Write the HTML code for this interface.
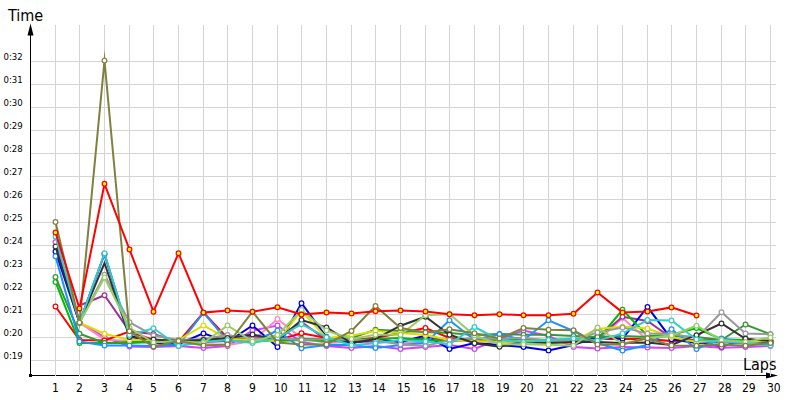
<!DOCTYPE html>
<html><head><meta charset="utf-8"><style>
html,body{margin:0;padding:0;background:#fff;width:800px;height:400px;overflow:hidden}
svg{display:block}
text{font-family:"DejaVu Sans","Liberation Sans",sans-serif;font-stretch:condensed;fill:#000}
.yl{font-size:9.5px}
.xl{font-size:12px}
.tt{font-size:16px}
.ser polyline{fill:none;stroke-width:2;stroke-linejoin:miter;stroke-miterlimit:20}
.ser circle{stroke-width:1.2}
</style></head><body>
<svg width="800" height="400" viewBox="0 0 800 400">
<path d="M30.5 34V375.5M30 375.5H768" stroke="#000" stroke-width="1" fill="none"/>
<path d="M30.5 23.5L27.5 35.5L33.5 35.5Z" fill="#000"/>
<path d="M778 375.5L766 372.5L766 378.5Z" fill="#000"/>
<rect x="29" y="374" width="3" height="3" fill="#000"/>
<path d="M55.5 25V376 M79.5 25V376 M104.5 25V376 M129.5 25V376 M153.5 25V376 M178.5 25V376 M203.5 25V376 M227.5 25V376 M252.5 25V376 M277.5 25V376 M301.5 25V376 M326.5 25V376 M351.5 25V376 M375.5 25V376 M400.5 25V376 M425.5 25V376 M449.5 25V376 M474.5 25V376 M499.5 25V376 M523.5 25V376 M548.5 25V376 M573.5 25V376 M597.5 25V376 M622.5 25V376 M647.5 25V376 M671.5 25V376 M696.5 25V376 M721.5 25V376 M745.5 25V376 M770.5 25V376 M31 61.5H776 M31 84.5H776 M31 107.5H776 M31 130.5H776 M31 153.5H776 M31 176.5H776 M31 199.5H776 M31 222.5H776 M31 245.5H776 M31 268.5H776 M31 291.5H776 M31 314.5H776 M31 337.5H776 M31 360.5H776" stroke="#d4d4d4" stroke-width="1" fill="none"/>
<g class="ser">
<polyline points="55.5,242.0 79.5,322.7 104.5,337.0 129.5,346.5 153.5,347.0 178.5,346.0 203.5,348.0 227.5,346.0 252.5,330.5 277.5,325.5 301.5,342.0 326.5,346.0 351.5,348.0 375.5,346.0 400.5,349.0 425.5,347.0 449.5,345.0 474.5,349.0 499.5,339.0 523.5,330.6 548.5,336.0 573.5,347.0 597.5,348.5 622.5,347.0 647.5,347.4 671.5,348.0 696.5,346.0 721.5,347.8 745.5,347.0 770.5,346.0" stroke="#cc44ff"/>
<circle cx="55.5" cy="242.0" r="2.35" fill="#fff" stroke="#cc44ff"/>
<circle cx="79.5" cy="322.7" r="2.35" fill="#fff" stroke="#cc44ff"/>
<circle cx="104.5" cy="337.0" r="2.35" fill="#fff" stroke="#cc44ff"/>
<circle cx="129.5" cy="346.5" r="2.35" fill="#fff" stroke="#cc44ff"/>
<circle cx="153.5" cy="347.0" r="2.35" fill="#fff" stroke="#cc44ff"/>
<circle cx="178.5" cy="346.0" r="2.35" fill="#fff" stroke="#cc44ff"/>
<circle cx="203.5" cy="348.0" r="2.35" fill="#fff" stroke="#cc44ff"/>
<circle cx="227.5" cy="346.0" r="2.35" fill="#fff" stroke="#cc44ff"/>
<circle cx="252.5" cy="330.5" r="2.35" fill="#fff" stroke="#cc44ff"/>
<circle cx="277.5" cy="325.5" r="2.35" fill="#fff" stroke="#cc44ff"/>
<circle cx="301.5" cy="342.0" r="2.35" fill="#fff" stroke="#cc44ff"/>
<circle cx="326.5" cy="346.0" r="2.35" fill="#fff" stroke="#cc44ff"/>
<circle cx="351.5" cy="348.0" r="2.35" fill="#fff" stroke="#cc44ff"/>
<circle cx="375.5" cy="346.0" r="2.35" fill="#fff" stroke="#cc44ff"/>
<circle cx="400.5" cy="349.0" r="2.35" fill="#fff" stroke="#cc44ff"/>
<circle cx="425.5" cy="347.0" r="2.35" fill="#fff" stroke="#cc44ff"/>
<circle cx="449.5" cy="345.0" r="2.35" fill="#fff" stroke="#cc44ff"/>
<circle cx="474.5" cy="349.0" r="2.35" fill="#fff" stroke="#cc44ff"/>
<circle cx="499.5" cy="339.0" r="2.35" fill="#fff" stroke="#cc44ff"/>
<circle cx="523.5" cy="330.6" r="2.35" fill="#fff" stroke="#cc44ff"/>
<circle cx="548.5" cy="336.0" r="2.35" fill="#fff" stroke="#cc44ff"/>
<circle cx="573.5" cy="347.0" r="2.35" fill="#fff" stroke="#cc44ff"/>
<circle cx="597.5" cy="348.5" r="2.35" fill="#fff" stroke="#cc44ff"/>
<circle cx="622.5" cy="347.0" r="2.35" fill="#fff" stroke="#cc44ff"/>
<circle cx="647.5" cy="347.4" r="2.35" fill="#fff" stroke="#cc44ff"/>
<circle cx="671.5" cy="348.0" r="2.35" fill="#fff" stroke="#cc44ff"/>
<circle cx="696.5" cy="346.0" r="2.35" fill="#fff" stroke="#cc44ff"/>
<circle cx="721.5" cy="347.8" r="2.35" fill="#fff" stroke="#cc44ff"/>
<circle cx="745.5" cy="347.0" r="2.35" fill="#fff" stroke="#cc44ff"/>
<circle cx="770.5" cy="346.0" r="2.35" fill="#fff" stroke="#cc44ff"/>
<polyline points="79.5,322.7 104.5,339.4 129.5,341.0 153.5,343.0 178.5,343.0 203.5,344.0 227.5,345.0 252.5,341.0 277.5,319.0 301.5,338.0 326.5,343.0 351.5,342.0 375.5,342.0 400.5,343.0 425.5,342.0 449.5,341.0 474.5,341.0 499.5,342.0 523.5,341.0 548.5,342.0 573.5,343.0 597.5,341.0 622.5,318.0 647.5,340.0 671.5,341.0 696.5,340.0 721.5,341.0 745.5,344.0 770.5,343.0" stroke="#ff88bb"/>
<circle cx="79.5" cy="322.7" r="2.35" fill="#fff" stroke="#ff88bb"/>
<circle cx="104.5" cy="339.4" r="2.35" fill="#fff" stroke="#ff88bb"/>
<circle cx="129.5" cy="341.0" r="2.35" fill="#fff" stroke="#ff88bb"/>
<circle cx="153.5" cy="343.0" r="2.35" fill="#fff" stroke="#ff88bb"/>
<circle cx="178.5" cy="343.0" r="2.35" fill="#fff" stroke="#ff88bb"/>
<circle cx="203.5" cy="344.0" r="2.35" fill="#fff" stroke="#ff88bb"/>
<circle cx="227.5" cy="345.0" r="2.35" fill="#fff" stroke="#ff88bb"/>
<circle cx="252.5" cy="341.0" r="2.35" fill="#fff" stroke="#ff88bb"/>
<circle cx="277.5" cy="319.0" r="2.35" fill="#fff" stroke="#ff88bb"/>
<circle cx="301.5" cy="338.0" r="2.35" fill="#fff" stroke="#ff88bb"/>
<circle cx="326.5" cy="343.0" r="2.35" fill="#fff" stroke="#ff88bb"/>
<circle cx="351.5" cy="342.0" r="2.35" fill="#fff" stroke="#ff88bb"/>
<circle cx="375.5" cy="342.0" r="2.35" fill="#fff" stroke="#ff88bb"/>
<circle cx="400.5" cy="343.0" r="2.35" fill="#fff" stroke="#ff88bb"/>
<circle cx="425.5" cy="342.0" r="2.35" fill="#fff" stroke="#ff88bb"/>
<circle cx="449.5" cy="341.0" r="2.35" fill="#fff" stroke="#ff88bb"/>
<circle cx="474.5" cy="341.0" r="2.35" fill="#fff" stroke="#ff88bb"/>
<circle cx="499.5" cy="342.0" r="2.35" fill="#fff" stroke="#ff88bb"/>
<circle cx="523.5" cy="341.0" r="2.35" fill="#fff" stroke="#ff88bb"/>
<circle cx="548.5" cy="342.0" r="2.35" fill="#fff" stroke="#ff88bb"/>
<circle cx="573.5" cy="343.0" r="2.35" fill="#fff" stroke="#ff88bb"/>
<circle cx="597.5" cy="341.0" r="2.35" fill="#fff" stroke="#ff88bb"/>
<circle cx="622.5" cy="318.0" r="2.35" fill="#fff" stroke="#ff88bb"/>
<circle cx="647.5" cy="340.0" r="2.35" fill="#fff" stroke="#ff88bb"/>
<circle cx="671.5" cy="341.0" r="2.35" fill="#fff" stroke="#ff88bb"/>
<circle cx="696.5" cy="340.0" r="2.35" fill="#fff" stroke="#ff88bb"/>
<circle cx="721.5" cy="341.0" r="2.35" fill="#fff" stroke="#ff88bb"/>
<circle cx="745.5" cy="344.0" r="2.35" fill="#fff" stroke="#ff88bb"/>
<circle cx="770.5" cy="343.0" r="2.35" fill="#fff" stroke="#ff88bb"/>
<polyline points="79.5,305.5 104.5,295.3 129.5,331.3 153.5,334.0 178.5,342.0 203.5,342.0 227.5,341.0 252.5,336.0 277.5,340.0 301.5,322.0 326.5,340.0 351.5,342.0 375.5,341.0 400.5,341.0 425.5,338.0 449.5,340.0 474.5,339.0 499.5,341.0 523.5,339.0 548.5,341.0 573.5,340.0 597.5,338.0 622.5,316.8 647.5,321.0 671.5,338.0 696.5,341.0 721.5,347.0 745.5,338.8 770.5,342.0" stroke="#993399"/>
<circle cx="104.5" cy="295.3" r="2.35" fill="#fff" stroke="#993399"/>
<circle cx="129.5" cy="331.3" r="2.35" fill="#fff" stroke="#993399"/>
<circle cx="153.5" cy="334.0" r="2.35" fill="#fff" stroke="#993399"/>
<circle cx="178.5" cy="342.0" r="2.35" fill="#fff" stroke="#993399"/>
<circle cx="203.5" cy="342.0" r="2.35" fill="#fff" stroke="#993399"/>
<circle cx="227.5" cy="341.0" r="2.35" fill="#fff" stroke="#993399"/>
<circle cx="252.5" cy="336.0" r="2.35" fill="#fff" stroke="#993399"/>
<circle cx="277.5" cy="340.0" r="2.35" fill="#fff" stroke="#993399"/>
<circle cx="301.5" cy="322.0" r="2.35" fill="#fff" stroke="#993399"/>
<circle cx="326.5" cy="340.0" r="2.35" fill="#fff" stroke="#993399"/>
<circle cx="351.5" cy="342.0" r="2.35" fill="#fff" stroke="#993399"/>
<circle cx="375.5" cy="341.0" r="2.35" fill="#fff" stroke="#993399"/>
<circle cx="400.5" cy="341.0" r="2.35" fill="#fff" stroke="#993399"/>
<circle cx="425.5" cy="338.0" r="2.35" fill="#fff" stroke="#993399"/>
<circle cx="449.5" cy="340.0" r="2.35" fill="#fff" stroke="#993399"/>
<circle cx="474.5" cy="339.0" r="2.35" fill="#fff" stroke="#993399"/>
<circle cx="499.5" cy="341.0" r="2.35" fill="#fff" stroke="#993399"/>
<circle cx="523.5" cy="339.0" r="2.35" fill="#fff" stroke="#993399"/>
<circle cx="548.5" cy="341.0" r="2.35" fill="#fff" stroke="#993399"/>
<circle cx="573.5" cy="340.0" r="2.35" fill="#fff" stroke="#993399"/>
<circle cx="597.5" cy="338.0" r="2.35" fill="#fff" stroke="#993399"/>
<circle cx="622.5" cy="316.8" r="2.35" fill="#fff" stroke="#993399"/>
<circle cx="647.5" cy="321.0" r="2.35" fill="#fff" stroke="#993399"/>
<circle cx="671.5" cy="338.0" r="2.35" fill="#fff" stroke="#993399"/>
<circle cx="696.5" cy="341.0" r="2.35" fill="#fff" stroke="#993399"/>
<circle cx="721.5" cy="347.0" r="2.35" fill="#fff" stroke="#993399"/>
<circle cx="745.5" cy="338.8" r="2.35" fill="#fff" stroke="#993399"/>
<circle cx="770.5" cy="342.0" r="2.35" fill="#fff" stroke="#993399"/>
<polyline points="55.5,306.5 79.5,340.0 104.5,340.5 129.5,331.5 153.5,340.0 178.5,342.0 203.5,312.6 227.5,338.0 252.5,339.0 277.5,340.0 301.5,333.2 326.5,338.0 351.5,340.0 375.5,338.0 400.5,333.0 425.5,328.0 449.5,338.0 474.5,340.0 499.5,341.0 523.5,342.0 548.5,340.0 573.5,342.0 597.5,339.0 622.5,339.0 647.5,339.0 671.5,341.0 696.5,340.0 721.5,340.0 745.5,340.0 770.5,341.0" stroke="#ff0000"/>
<circle cx="55.5" cy="306.5" r="2.35" fill="#fff" stroke="#ff0000"/>
<circle cx="79.5" cy="340.0" r="2.35" fill="#fff" stroke="#ff0000"/>
<circle cx="104.5" cy="340.5" r="2.35" fill="#fff" stroke="#ff0000"/>
<circle cx="129.5" cy="331.5" r="2.35" fill="#fff" stroke="#ff0000"/>
<circle cx="153.5" cy="340.0" r="2.35" fill="#fff" stroke="#ff0000"/>
<circle cx="178.5" cy="342.0" r="2.35" fill="#fff" stroke="#ff0000"/>
<circle cx="203.5" cy="312.6" r="2.35" fill="#fff" stroke="#ff0000"/>
<circle cx="227.5" cy="338.0" r="2.35" fill="#fff" stroke="#ff0000"/>
<circle cx="252.5" cy="339.0" r="2.35" fill="#fff" stroke="#ff0000"/>
<circle cx="277.5" cy="340.0" r="2.35" fill="#fff" stroke="#ff0000"/>
<circle cx="301.5" cy="333.2" r="2.35" fill="#fff" stroke="#ff0000"/>
<circle cx="326.5" cy="338.0" r="2.35" fill="#fff" stroke="#ff0000"/>
<circle cx="351.5" cy="340.0" r="2.35" fill="#fff" stroke="#ff0000"/>
<circle cx="375.5" cy="338.0" r="2.35" fill="#fff" stroke="#ff0000"/>
<circle cx="400.5" cy="333.0" r="2.35" fill="#fff" stroke="#ff0000"/>
<circle cx="425.5" cy="328.0" r="2.35" fill="#fff" stroke="#ff0000"/>
<circle cx="449.5" cy="338.0" r="2.35" fill="#fff" stroke="#ff0000"/>
<circle cx="474.5" cy="340.0" r="2.35" fill="#fff" stroke="#ff0000"/>
<circle cx="499.5" cy="341.0" r="2.35" fill="#fff" stroke="#ff0000"/>
<circle cx="523.5" cy="342.0" r="2.35" fill="#fff" stroke="#ff0000"/>
<circle cx="548.5" cy="340.0" r="2.35" fill="#fff" stroke="#ff0000"/>
<circle cx="573.5" cy="342.0" r="2.35" fill="#fff" stroke="#ff0000"/>
<circle cx="597.5" cy="339.0" r="2.35" fill="#fff" stroke="#ff0000"/>
<circle cx="622.5" cy="339.0" r="2.35" fill="#fff" stroke="#ff0000"/>
<circle cx="647.5" cy="339.0" r="2.35" fill="#fff" stroke="#ff0000"/>
<circle cx="671.5" cy="341.0" r="2.35" fill="#fff" stroke="#ff0000"/>
<circle cx="696.5" cy="340.0" r="2.35" fill="#fff" stroke="#ff0000"/>
<circle cx="721.5" cy="340.0" r="2.35" fill="#fff" stroke="#ff0000"/>
<circle cx="745.5" cy="340.0" r="2.35" fill="#fff" stroke="#ff0000"/>
<circle cx="770.5" cy="341.0" r="2.35" fill="#fff" stroke="#ff0000"/>
<polyline points="55.5,251.5 79.5,322.7 104.5,254.0 129.5,335.5 153.5,343.0 178.5,344.0 203.5,333.4 227.5,342.0 252.5,325.5 277.5,347.0 301.5,303.2 326.5,337.0 351.5,343.0 375.5,339.0 400.5,342.0 425.5,335.5 449.5,349.0 474.5,343.0 499.5,345.0 523.5,347.0 548.5,350.4 573.5,345.0 597.5,336.3 622.5,338.8 647.5,307.0 671.5,339.2 696.5,343.0 721.5,342.0 745.5,343.0 770.5,343.0" stroke="#0000dd"/>
<circle cx="55.5" cy="251.5" r="2.35" fill="#fff" stroke="#0000dd"/>
<circle cx="79.5" cy="322.7" r="2.35" fill="#fff" stroke="#0000dd"/>
<circle cx="104.5" cy="254.0" r="2.35" fill="#fff" stroke="#0000dd"/>
<circle cx="129.5" cy="335.5" r="2.35" fill="#fff" stroke="#0000dd"/>
<circle cx="153.5" cy="343.0" r="2.35" fill="#fff" stroke="#0000dd"/>
<circle cx="178.5" cy="344.0" r="2.35" fill="#fff" stroke="#0000dd"/>
<circle cx="203.5" cy="333.4" r="2.35" fill="#fff" stroke="#0000dd"/>
<circle cx="227.5" cy="342.0" r="2.35" fill="#fff" stroke="#0000dd"/>
<circle cx="252.5" cy="325.5" r="2.35" fill="#fff" stroke="#0000dd"/>
<circle cx="277.5" cy="347.0" r="2.35" fill="#fff" stroke="#0000dd"/>
<circle cx="301.5" cy="303.2" r="2.35" fill="#fff" stroke="#0000dd"/>
<circle cx="326.5" cy="337.0" r="2.35" fill="#fff" stroke="#0000dd"/>
<circle cx="351.5" cy="343.0" r="2.35" fill="#fff" stroke="#0000dd"/>
<circle cx="375.5" cy="339.0" r="2.35" fill="#fff" stroke="#0000dd"/>
<circle cx="400.5" cy="342.0" r="2.35" fill="#fff" stroke="#0000dd"/>
<circle cx="425.5" cy="335.5" r="2.35" fill="#fff" stroke="#0000dd"/>
<circle cx="449.5" cy="349.0" r="2.35" fill="#fff" stroke="#0000dd"/>
<circle cx="474.5" cy="343.0" r="2.35" fill="#fff" stroke="#0000dd"/>
<circle cx="499.5" cy="345.0" r="2.35" fill="#fff" stroke="#0000dd"/>
<circle cx="523.5" cy="347.0" r="2.35" fill="#fff" stroke="#0000dd"/>
<circle cx="548.5" cy="350.4" r="2.35" fill="#fff" stroke="#0000dd"/>
<circle cx="573.5" cy="345.0" r="2.35" fill="#fff" stroke="#0000dd"/>
<circle cx="597.5" cy="336.3" r="2.35" fill="#fff" stroke="#0000dd"/>
<circle cx="622.5" cy="338.8" r="2.35" fill="#fff" stroke="#0000dd"/>
<circle cx="647.5" cy="307.0" r="2.35" fill="#fff" stroke="#0000dd"/>
<circle cx="671.5" cy="339.2" r="2.35" fill="#fff" stroke="#0000dd"/>
<circle cx="696.5" cy="343.0" r="2.35" fill="#fff" stroke="#0000dd"/>
<circle cx="721.5" cy="342.0" r="2.35" fill="#fff" stroke="#0000dd"/>
<circle cx="745.5" cy="343.0" r="2.35" fill="#fff" stroke="#0000dd"/>
<circle cx="770.5" cy="343.0" r="2.35" fill="#fff" stroke="#0000dd"/>
<polyline points="55.5,281.9 79.5,343.0 104.5,343.0 129.5,343.0 153.5,342.0 178.5,342.0 203.5,341.0 227.5,340.0 252.5,341.0 277.5,341.0 301.5,340.0 326.5,341.0 351.5,340.0 375.5,339.0 400.5,338.0 425.5,340.0 449.5,341.0 474.5,339.0 499.5,340.0 523.5,339.0 548.5,340.0 573.5,339.0 597.5,340.0 622.5,309.8 647.5,336.0 671.5,335.0 696.5,328.0 721.5,339.2 745.5,340.0 770.5,342.0" stroke="#00bb00"/>
<circle cx="55.5" cy="281.9" r="2.35" fill="#fff" stroke="#00bb00"/>
<circle cx="79.5" cy="343.0" r="2.35" fill="#fff" stroke="#00bb00"/>
<circle cx="104.5" cy="343.0" r="2.35" fill="#fff" stroke="#00bb00"/>
<circle cx="129.5" cy="343.0" r="2.35" fill="#fff" stroke="#00bb00"/>
<circle cx="153.5" cy="342.0" r="2.35" fill="#fff" stroke="#00bb00"/>
<circle cx="178.5" cy="342.0" r="2.35" fill="#fff" stroke="#00bb00"/>
<circle cx="203.5" cy="341.0" r="2.35" fill="#fff" stroke="#00bb00"/>
<circle cx="227.5" cy="340.0" r="2.35" fill="#fff" stroke="#00bb00"/>
<circle cx="252.5" cy="341.0" r="2.35" fill="#fff" stroke="#00bb00"/>
<circle cx="277.5" cy="341.0" r="2.35" fill="#fff" stroke="#00bb00"/>
<circle cx="301.5" cy="340.0" r="2.35" fill="#fff" stroke="#00bb00"/>
<circle cx="326.5" cy="341.0" r="2.35" fill="#fff" stroke="#00bb00"/>
<circle cx="351.5" cy="340.0" r="2.35" fill="#fff" stroke="#00bb00"/>
<circle cx="375.5" cy="339.0" r="2.35" fill="#fff" stroke="#00bb00"/>
<circle cx="400.5" cy="338.0" r="2.35" fill="#fff" stroke="#00bb00"/>
<circle cx="425.5" cy="340.0" r="2.35" fill="#fff" stroke="#00bb00"/>
<circle cx="449.5" cy="341.0" r="2.35" fill="#fff" stroke="#00bb00"/>
<circle cx="474.5" cy="339.0" r="2.35" fill="#fff" stroke="#00bb00"/>
<circle cx="499.5" cy="340.0" r="2.35" fill="#fff" stroke="#00bb00"/>
<circle cx="523.5" cy="339.0" r="2.35" fill="#fff" stroke="#00bb00"/>
<circle cx="548.5" cy="340.0" r="2.35" fill="#fff" stroke="#00bb00"/>
<circle cx="573.5" cy="339.0" r="2.35" fill="#fff" stroke="#00bb00"/>
<circle cx="597.5" cy="340.0" r="2.35" fill="#fff" stroke="#00bb00"/>
<circle cx="622.5" cy="309.8" r="2.35" fill="#fff" stroke="#00bb00"/>
<circle cx="647.5" cy="336.0" r="2.35" fill="#fff" stroke="#00bb00"/>
<circle cx="671.5" cy="335.0" r="2.35" fill="#fff" stroke="#00bb00"/>
<circle cx="696.5" cy="328.0" r="2.35" fill="#fff" stroke="#00bb00"/>
<circle cx="721.5" cy="339.2" r="2.35" fill="#fff" stroke="#00bb00"/>
<circle cx="745.5" cy="340.0" r="2.35" fill="#fff" stroke="#00bb00"/>
<circle cx="770.5" cy="342.0" r="2.35" fill="#fff" stroke="#00bb00"/>
<polyline points="55.5,276.9 79.5,333.7 104.5,343.0 129.5,342.0 153.5,341.0 178.5,341.0 203.5,340.0 227.5,339.0 252.5,340.0 277.5,340.0 301.5,339.0 326.5,339.0 351.5,338.0 375.5,329.8 400.5,331.0 425.5,332.0 449.5,333.0 474.5,335.0 499.5,334.0 523.5,334.7 548.5,334.8 573.5,336.0 597.5,337.0 622.5,336.0 647.5,337.0 671.5,336.0 696.5,337.0 721.5,340.0 745.5,324.5 770.5,334.3" stroke="#339933"/>
<circle cx="55.5" cy="276.9" r="2.35" fill="#fff" stroke="#339933"/>
<circle cx="79.5" cy="333.7" r="2.35" fill="#fff" stroke="#339933"/>
<circle cx="104.5" cy="343.0" r="2.35" fill="#fff" stroke="#339933"/>
<circle cx="129.5" cy="342.0" r="2.35" fill="#fff" stroke="#339933"/>
<circle cx="153.5" cy="341.0" r="2.35" fill="#fff" stroke="#339933"/>
<circle cx="178.5" cy="341.0" r="2.35" fill="#fff" stroke="#339933"/>
<circle cx="203.5" cy="340.0" r="2.35" fill="#fff" stroke="#339933"/>
<circle cx="227.5" cy="339.0" r="2.35" fill="#fff" stroke="#339933"/>
<circle cx="252.5" cy="340.0" r="2.35" fill="#fff" stroke="#339933"/>
<circle cx="277.5" cy="340.0" r="2.35" fill="#fff" stroke="#339933"/>
<circle cx="301.5" cy="339.0" r="2.35" fill="#fff" stroke="#339933"/>
<circle cx="326.5" cy="339.0" r="2.35" fill="#fff" stroke="#339933"/>
<circle cx="351.5" cy="338.0" r="2.35" fill="#fff" stroke="#339933"/>
<circle cx="375.5" cy="329.8" r="2.35" fill="#fff" stroke="#339933"/>
<circle cx="400.5" cy="331.0" r="2.35" fill="#fff" stroke="#339933"/>
<circle cx="425.5" cy="332.0" r="2.35" fill="#fff" stroke="#339933"/>
<circle cx="449.5" cy="333.0" r="2.35" fill="#fff" stroke="#339933"/>
<circle cx="474.5" cy="335.0" r="2.35" fill="#fff" stroke="#339933"/>
<circle cx="499.5" cy="334.0" r="2.35" fill="#fff" stroke="#339933"/>
<circle cx="523.5" cy="334.7" r="2.35" fill="#fff" stroke="#339933"/>
<circle cx="548.5" cy="334.8" r="2.35" fill="#fff" stroke="#339933"/>
<circle cx="573.5" cy="336.0" r="2.35" fill="#fff" stroke="#339933"/>
<circle cx="597.5" cy="337.0" r="2.35" fill="#fff" stroke="#339933"/>
<circle cx="622.5" cy="336.0" r="2.35" fill="#fff" stroke="#339933"/>
<circle cx="647.5" cy="337.0" r="2.35" fill="#fff" stroke="#339933"/>
<circle cx="671.5" cy="336.0" r="2.35" fill="#fff" stroke="#339933"/>
<circle cx="696.5" cy="337.0" r="2.35" fill="#fff" stroke="#339933"/>
<circle cx="721.5" cy="340.0" r="2.35" fill="#fff" stroke="#339933"/>
<circle cx="745.5" cy="324.5" r="2.35" fill="#fff" stroke="#339933"/>
<circle cx="770.5" cy="334.3" r="2.35" fill="#fff" stroke="#339933"/>
<polyline points="55.5,256.3 79.5,341.5 104.5,345.6 129.5,345.6 153.5,346.0 178.5,345.0 203.5,312.6 227.5,341.0 252.5,342.0 277.5,330.5 301.5,348.2 326.5,345.0 351.5,345.0 375.5,348.0 400.5,345.0 425.5,343.0 449.5,320.2 474.5,340.0 499.5,334.3 523.5,340.0 548.5,320.3 573.5,331.0 597.5,343.0 622.5,350.6 647.5,345.0 671.5,329.2 696.5,349.0 721.5,338.5 745.5,342.0 770.5,345.0" stroke="#1e90ff"/>
<circle cx="55.5" cy="256.3" r="2.35" fill="#fff" stroke="#1e90ff"/>
<circle cx="79.5" cy="341.5" r="2.35" fill="#fff" stroke="#1e90ff"/>
<circle cx="104.5" cy="345.6" r="2.35" fill="#fff" stroke="#1e90ff"/>
<circle cx="129.5" cy="345.6" r="2.35" fill="#fff" stroke="#1e90ff"/>
<circle cx="153.5" cy="346.0" r="2.35" fill="#fff" stroke="#1e90ff"/>
<circle cx="178.5" cy="345.0" r="2.35" fill="#fff" stroke="#1e90ff"/>
<circle cx="203.5" cy="312.6" r="2.35" fill="#fff" stroke="#1e90ff"/>
<circle cx="227.5" cy="341.0" r="2.35" fill="#fff" stroke="#1e90ff"/>
<circle cx="252.5" cy="342.0" r="2.35" fill="#fff" stroke="#1e90ff"/>
<circle cx="277.5" cy="330.5" r="2.35" fill="#fff" stroke="#1e90ff"/>
<circle cx="301.5" cy="348.2" r="2.35" fill="#fff" stroke="#1e90ff"/>
<circle cx="326.5" cy="345.0" r="2.35" fill="#fff" stroke="#1e90ff"/>
<circle cx="351.5" cy="345.0" r="2.35" fill="#fff" stroke="#1e90ff"/>
<circle cx="375.5" cy="348.0" r="2.35" fill="#fff" stroke="#1e90ff"/>
<circle cx="400.5" cy="345.0" r="2.35" fill="#fff" stroke="#1e90ff"/>
<circle cx="425.5" cy="343.0" r="2.35" fill="#fff" stroke="#1e90ff"/>
<circle cx="449.5" cy="320.2" r="2.35" fill="#fff" stroke="#1e90ff"/>
<circle cx="474.5" cy="340.0" r="2.35" fill="#fff" stroke="#1e90ff"/>
<circle cx="499.5" cy="334.3" r="2.35" fill="#fff" stroke="#1e90ff"/>
<circle cx="523.5" cy="340.0" r="2.35" fill="#fff" stroke="#1e90ff"/>
<circle cx="548.5" cy="320.3" r="2.35" fill="#fff" stroke="#1e90ff"/>
<circle cx="573.5" cy="331.0" r="2.35" fill="#fff" stroke="#1e90ff"/>
<circle cx="597.5" cy="343.0" r="2.35" fill="#fff" stroke="#1e90ff"/>
<circle cx="622.5" cy="350.6" r="2.35" fill="#fff" stroke="#1e90ff"/>
<circle cx="647.5" cy="345.0" r="2.35" fill="#fff" stroke="#1e90ff"/>
<circle cx="671.5" cy="329.2" r="2.35" fill="#fff" stroke="#1e90ff"/>
<circle cx="696.5" cy="349.0" r="2.35" fill="#fff" stroke="#1e90ff"/>
<circle cx="721.5" cy="338.5" r="2.35" fill="#fff" stroke="#1e90ff"/>
<circle cx="745.5" cy="342.0" r="2.35" fill="#fff" stroke="#1e90ff"/>
<circle cx="770.5" cy="345.0" r="2.35" fill="#fff" stroke="#1e90ff"/>
<polyline points="79.5,322.7 104.5,333.7 129.5,340.0 153.5,340.0 178.5,340.0 203.5,325.4 227.5,339.0 252.5,340.0 277.5,341.0 301.5,311.0 326.5,338.0 351.5,335.5 375.5,331.0 400.5,333.0 425.5,335.0 449.5,340.0 474.5,341.0 499.5,342.0 523.5,341.0 548.5,342.0 573.5,341.0 597.5,329.0 622.5,326.6 647.5,328.5 671.5,337.0 696.5,342.0 721.5,341.0 745.5,342.0 770.5,341.0" stroke="#dddd00"/>
<circle cx="79.5" cy="322.7" r="2.35" fill="#fff" stroke="#dddd00"/>
<circle cx="104.5" cy="333.7" r="2.35" fill="#fff" stroke="#dddd00"/>
<circle cx="129.5" cy="340.0" r="2.35" fill="#fff" stroke="#dddd00"/>
<circle cx="153.5" cy="340.0" r="2.35" fill="#fff" stroke="#dddd00"/>
<circle cx="178.5" cy="340.0" r="2.35" fill="#fff" stroke="#dddd00"/>
<circle cx="203.5" cy="325.4" r="2.35" fill="#fff" stroke="#dddd00"/>
<circle cx="227.5" cy="339.0" r="2.35" fill="#fff" stroke="#dddd00"/>
<circle cx="252.5" cy="340.0" r="2.35" fill="#fff" stroke="#dddd00"/>
<circle cx="277.5" cy="341.0" r="2.35" fill="#fff" stroke="#dddd00"/>
<circle cx="301.5" cy="311.0" r="2.35" fill="#fff" stroke="#dddd00"/>
<circle cx="326.5" cy="338.0" r="2.35" fill="#fff" stroke="#dddd00"/>
<circle cx="351.5" cy="335.5" r="2.35" fill="#fff" stroke="#dddd00"/>
<circle cx="375.5" cy="331.0" r="2.35" fill="#fff" stroke="#dddd00"/>
<circle cx="400.5" cy="333.0" r="2.35" fill="#fff" stroke="#dddd00"/>
<circle cx="425.5" cy="335.0" r="2.35" fill="#fff" stroke="#dddd00"/>
<circle cx="449.5" cy="340.0" r="2.35" fill="#fff" stroke="#dddd00"/>
<circle cx="474.5" cy="341.0" r="2.35" fill="#fff" stroke="#dddd00"/>
<circle cx="499.5" cy="342.0" r="2.35" fill="#fff" stroke="#dddd00"/>
<circle cx="523.5" cy="341.0" r="2.35" fill="#fff" stroke="#dddd00"/>
<circle cx="548.5" cy="342.0" r="2.35" fill="#fff" stroke="#dddd00"/>
<circle cx="573.5" cy="341.0" r="2.35" fill="#fff" stroke="#dddd00"/>
<circle cx="597.5" cy="329.0" r="2.35" fill="#fff" stroke="#dddd00"/>
<circle cx="622.5" cy="326.6" r="2.35" fill="#fff" stroke="#dddd00"/>
<circle cx="647.5" cy="328.5" r="2.35" fill="#fff" stroke="#dddd00"/>
<circle cx="671.5" cy="337.0" r="2.35" fill="#fff" stroke="#dddd00"/>
<circle cx="696.5" cy="342.0" r="2.35" fill="#fff" stroke="#dddd00"/>
<circle cx="721.5" cy="341.0" r="2.35" fill="#fff" stroke="#dddd00"/>
<circle cx="745.5" cy="342.0" r="2.35" fill="#fff" stroke="#dddd00"/>
<circle cx="770.5" cy="341.0" r="2.35" fill="#fff" stroke="#dddd00"/>
<polyline points="79.5,322.7 104.5,274.7 129.5,322.2 153.5,335.5 178.5,340.0 203.5,339.0 227.5,335.0 252.5,339.0 277.5,338.0 301.5,340.0 326.5,339.0 351.5,339.7 375.5,340.0 400.5,344.5 425.5,346.0 449.5,340.0 474.5,338.0 499.5,339.0 523.5,337.7 548.5,341.0 573.5,340.0 597.5,332.5 622.5,327.4 647.5,333.6 671.5,334.0 696.5,338.0 721.5,312.2 745.5,333.5 770.5,334.3" stroke="#999999"/>
<circle cx="79.5" cy="322.7" r="2.35" fill="#fff" stroke="#999999"/>
<circle cx="104.5" cy="274.7" r="2.35" fill="#fff" stroke="#999999"/>
<circle cx="129.5" cy="322.2" r="2.35" fill="#fff" stroke="#999999"/>
<circle cx="153.5" cy="335.5" r="2.35" fill="#fff" stroke="#999999"/>
<circle cx="178.5" cy="340.0" r="2.35" fill="#fff" stroke="#999999"/>
<circle cx="203.5" cy="339.0" r="2.35" fill="#fff" stroke="#999999"/>
<circle cx="227.5" cy="335.0" r="2.35" fill="#fff" stroke="#999999"/>
<circle cx="252.5" cy="339.0" r="2.35" fill="#fff" stroke="#999999"/>
<circle cx="277.5" cy="338.0" r="2.35" fill="#fff" stroke="#999999"/>
<circle cx="301.5" cy="340.0" r="2.35" fill="#fff" stroke="#999999"/>
<circle cx="326.5" cy="339.0" r="2.35" fill="#fff" stroke="#999999"/>
<circle cx="351.5" cy="339.7" r="2.35" fill="#fff" stroke="#999999"/>
<circle cx="375.5" cy="340.0" r="2.35" fill="#fff" stroke="#999999"/>
<circle cx="400.5" cy="344.5" r="2.35" fill="#fff" stroke="#999999"/>
<circle cx="425.5" cy="346.0" r="2.35" fill="#fff" stroke="#999999"/>
<circle cx="449.5" cy="340.0" r="2.35" fill="#fff" stroke="#999999"/>
<circle cx="474.5" cy="338.0" r="2.35" fill="#fff" stroke="#999999"/>
<circle cx="499.5" cy="339.0" r="2.35" fill="#fff" stroke="#999999"/>
<circle cx="523.5" cy="337.7" r="2.35" fill="#fff" stroke="#999999"/>
<circle cx="548.5" cy="341.0" r="2.35" fill="#fff" stroke="#999999"/>
<circle cx="573.5" cy="340.0" r="2.35" fill="#fff" stroke="#999999"/>
<circle cx="597.5" cy="332.5" r="2.35" fill="#fff" stroke="#999999"/>
<circle cx="622.5" cy="327.4" r="2.35" fill="#fff" stroke="#999999"/>
<circle cx="647.5" cy="333.6" r="2.35" fill="#fff" stroke="#999999"/>
<circle cx="671.5" cy="334.0" r="2.35" fill="#fff" stroke="#999999"/>
<circle cx="696.5" cy="338.0" r="2.35" fill="#fff" stroke="#999999"/>
<circle cx="721.5" cy="312.2" r="2.35" fill="#fff" stroke="#999999"/>
<circle cx="745.5" cy="333.5" r="2.35" fill="#fff" stroke="#999999"/>
<circle cx="770.5" cy="334.3" r="2.35" fill="#fff" stroke="#999999"/>
<polyline points="55.5,246.6 79.5,322.7 104.5,263.0 129.5,337.0 153.5,339.5 178.5,341.0 203.5,340.0 227.5,338.0 252.5,334.5 277.5,340.0 301.5,320.0 326.5,327.5 351.5,343.0 375.5,339.0 400.5,325.7 425.5,316.7 449.5,334.7 474.5,343.3 499.5,346.7 523.5,342.0 548.5,343.0 573.5,342.0 597.5,342.0 622.5,343.0 647.5,342.4 671.5,345.0 696.5,335.2 721.5,323.5 745.5,338.8 770.5,341.0" stroke="#333333"/>
<circle cx="55.5" cy="246.6" r="2.35" fill="#fff" stroke="#333333"/>
<circle cx="79.5" cy="322.7" r="2.35" fill="#fff" stroke="#333333"/>
<circle cx="129.5" cy="337.0" r="2.35" fill="#fff" stroke="#333333"/>
<circle cx="153.5" cy="339.5" r="2.35" fill="#fff" stroke="#333333"/>
<circle cx="178.5" cy="341.0" r="2.35" fill="#fff" stroke="#333333"/>
<circle cx="203.5" cy="340.0" r="2.35" fill="#fff" stroke="#333333"/>
<circle cx="227.5" cy="338.0" r="2.35" fill="#fff" stroke="#333333"/>
<circle cx="252.5" cy="334.5" r="2.35" fill="#fff" stroke="#333333"/>
<circle cx="277.5" cy="340.0" r="2.35" fill="#fff" stroke="#333333"/>
<circle cx="301.5" cy="320.0" r="2.35" fill="#fff" stroke="#333333"/>
<circle cx="326.5" cy="327.5" r="2.35" fill="#fff" stroke="#333333"/>
<circle cx="351.5" cy="343.0" r="2.35" fill="#fff" stroke="#333333"/>
<circle cx="400.5" cy="325.7" r="2.35" fill="#fff" stroke="#333333"/>
<circle cx="425.5" cy="316.7" r="2.35" fill="#fff" stroke="#333333"/>
<circle cx="449.5" cy="334.7" r="2.35" fill="#fff" stroke="#333333"/>
<circle cx="474.5" cy="343.3" r="2.35" fill="#fff" stroke="#333333"/>
<circle cx="499.5" cy="346.7" r="2.35" fill="#fff" stroke="#333333"/>
<circle cx="523.5" cy="342.0" r="2.35" fill="#fff" stroke="#333333"/>
<circle cx="548.5" cy="343.0" r="2.35" fill="#fff" stroke="#333333"/>
<circle cx="573.5" cy="342.0" r="2.35" fill="#fff" stroke="#333333"/>
<circle cx="597.5" cy="342.0" r="2.35" fill="#fff" stroke="#333333"/>
<circle cx="622.5" cy="343.0" r="2.35" fill="#fff" stroke="#333333"/>
<circle cx="647.5" cy="342.4" r="2.35" fill="#fff" stroke="#333333"/>
<circle cx="671.5" cy="345.0" r="2.35" fill="#fff" stroke="#333333"/>
<circle cx="696.5" cy="335.2" r="2.35" fill="#fff" stroke="#333333"/>
<circle cx="721.5" cy="323.5" r="2.35" fill="#fff" stroke="#333333"/>
<circle cx="745.5" cy="338.8" r="2.35" fill="#fff" stroke="#333333"/>
<circle cx="770.5" cy="341.0" r="2.35" fill="#fff" stroke="#333333"/>
<polyline points="55.5,236.5 79.5,322.7 104.5,253.3 129.5,335.0 153.5,328.3 178.5,346.0 203.5,342.0 227.5,340.0 252.5,343.0 277.5,338.0 301.5,324.2 326.5,337.3 351.5,345.2 375.5,343.3 400.5,340.0 425.5,341.5 449.5,344.3 474.5,327.0 499.5,340.0 523.5,342.0 548.5,340.0 573.5,338.5 597.5,340.8 622.5,333.4 647.5,320.0 671.5,320.5 696.5,339.5 721.5,342.0 745.5,343.0 770.5,345.5" stroke="#33cccc"/>
<circle cx="55.5" cy="236.5" r="2.35" fill="#fff" stroke="#33cccc"/>
<circle cx="79.5" cy="322.7" r="2.35" fill="#fff" stroke="#33cccc"/>
<circle cx="104.5" cy="253.3" r="2.35" fill="#fff" stroke="#33cccc"/>
<circle cx="129.5" cy="335.0" r="2.35" fill="#fff" stroke="#33cccc"/>
<circle cx="153.5" cy="328.3" r="2.35" fill="#fff" stroke="#33cccc"/>
<circle cx="178.5" cy="346.0" r="2.35" fill="#fff" stroke="#33cccc"/>
<circle cx="203.5" cy="342.0" r="2.35" fill="#fff" stroke="#33cccc"/>
<circle cx="227.5" cy="340.0" r="2.35" fill="#fff" stroke="#33cccc"/>
<circle cx="252.5" cy="343.0" r="2.35" fill="#fff" stroke="#33cccc"/>
<circle cx="277.5" cy="338.0" r="2.35" fill="#fff" stroke="#33cccc"/>
<circle cx="301.5" cy="324.2" r="2.35" fill="#fff" stroke="#33cccc"/>
<circle cx="326.5" cy="337.3" r="2.35" fill="#fff" stroke="#33cccc"/>
<circle cx="351.5" cy="345.2" r="2.35" fill="#fff" stroke="#33cccc"/>
<circle cx="375.5" cy="343.3" r="2.35" fill="#fff" stroke="#33cccc"/>
<circle cx="400.5" cy="340.0" r="2.35" fill="#fff" stroke="#33cccc"/>
<circle cx="425.5" cy="341.5" r="2.35" fill="#fff" stroke="#33cccc"/>
<circle cx="449.5" cy="344.3" r="2.35" fill="#fff" stroke="#33cccc"/>
<circle cx="474.5" cy="327.0" r="2.35" fill="#fff" stroke="#33cccc"/>
<circle cx="499.5" cy="340.0" r="2.35" fill="#fff" stroke="#33cccc"/>
<circle cx="523.5" cy="342.0" r="2.35" fill="#fff" stroke="#33cccc"/>
<circle cx="548.5" cy="340.0" r="2.35" fill="#fff" stroke="#33cccc"/>
<circle cx="573.5" cy="338.5" r="2.35" fill="#fff" stroke="#33cccc"/>
<circle cx="597.5" cy="340.8" r="2.35" fill="#fff" stroke="#33cccc"/>
<circle cx="622.5" cy="333.4" r="2.35" fill="#fff" stroke="#33cccc"/>
<circle cx="647.5" cy="320.0" r="2.35" fill="#fff" stroke="#33cccc"/>
<circle cx="671.5" cy="320.5" r="2.35" fill="#fff" stroke="#33cccc"/>
<circle cx="696.5" cy="339.5" r="2.35" fill="#fff" stroke="#33cccc"/>
<circle cx="721.5" cy="342.0" r="2.35" fill="#fff" stroke="#33cccc"/>
<circle cx="745.5" cy="343.0" r="2.35" fill="#fff" stroke="#33cccc"/>
<circle cx="770.5" cy="345.5" r="2.35" fill="#fff" stroke="#33cccc"/>
<polyline points="79.5,322.7 104.5,277.5 129.5,327.8 153.5,342.6 178.5,341.0 203.5,343.0 227.5,325.4 252.5,341.4 277.5,335.0 301.5,310.0 326.5,330.5 351.5,339.0 375.5,334.7 400.5,334.7 425.5,315.2 449.5,314.0 474.5,335.5 499.5,344.2 523.5,344.2 548.5,344.7 573.5,345.7 597.5,327.4 622.5,344.0 647.5,338.0 671.5,335.5 696.5,325.7 721.5,340.0 745.5,342.0 770.5,337.4" stroke="#99cc66"/>
<circle cx="79.5" cy="322.7" r="2.35" fill="#fff" stroke="#99cc66"/>
<circle cx="104.5" cy="277.5" r="2.35" fill="#fff" stroke="#99cc66"/>
<circle cx="129.5" cy="327.8" r="2.35" fill="#fff" stroke="#99cc66"/>
<circle cx="153.5" cy="342.6" r="2.35" fill="#fff" stroke="#99cc66"/>
<circle cx="178.5" cy="341.0" r="2.35" fill="#fff" stroke="#99cc66"/>
<circle cx="203.5" cy="343.0" r="2.35" fill="#fff" stroke="#99cc66"/>
<circle cx="227.5" cy="325.4" r="2.35" fill="#fff" stroke="#99cc66"/>
<circle cx="252.5" cy="341.4" r="2.35" fill="#fff" stroke="#99cc66"/>
<circle cx="277.5" cy="335.0" r="2.35" fill="#fff" stroke="#99cc66"/>
<circle cx="301.5" cy="310.0" r="2.35" fill="#fff" stroke="#99cc66"/>
<circle cx="326.5" cy="330.5" r="2.35" fill="#fff" stroke="#99cc66"/>
<circle cx="351.5" cy="339.0" r="2.35" fill="#fff" stroke="#99cc66"/>
<circle cx="375.5" cy="334.7" r="2.35" fill="#fff" stroke="#99cc66"/>
<circle cx="400.5" cy="334.7" r="2.35" fill="#fff" stroke="#99cc66"/>
<circle cx="425.5" cy="315.2" r="2.35" fill="#fff" stroke="#99cc66"/>
<circle cx="449.5" cy="314.0" r="2.35" fill="#fff" stroke="#99cc66"/>
<circle cx="474.5" cy="335.5" r="2.35" fill="#fff" stroke="#99cc66"/>
<circle cx="499.5" cy="344.2" r="2.35" fill="#fff" stroke="#99cc66"/>
<circle cx="523.5" cy="344.2" r="2.35" fill="#fff" stroke="#99cc66"/>
<circle cx="548.5" cy="344.7" r="2.35" fill="#fff" stroke="#99cc66"/>
<circle cx="573.5" cy="345.7" r="2.35" fill="#fff" stroke="#99cc66"/>
<circle cx="597.5" cy="327.4" r="2.35" fill="#fff" stroke="#99cc66"/>
<circle cx="622.5" cy="344.0" r="2.35" fill="#fff" stroke="#99cc66"/>
<circle cx="647.5" cy="338.0" r="2.35" fill="#fff" stroke="#99cc66"/>
<circle cx="671.5" cy="335.5" r="2.35" fill="#fff" stroke="#99cc66"/>
<circle cx="696.5" cy="325.7" r="2.35" fill="#fff" stroke="#99cc66"/>
<circle cx="721.5" cy="340.0" r="2.35" fill="#fff" stroke="#99cc66"/>
<circle cx="745.5" cy="342.0" r="2.35" fill="#fff" stroke="#99cc66"/>
<circle cx="770.5" cy="337.4" r="2.35" fill="#fff" stroke="#99cc66"/>
<polyline points="55.5,221.9 79.5,322.6 104.5,60.6 129.5,331.3 153.5,346.6 178.5,341.0 203.5,345.4 227.5,344.5 252.5,311.7 277.5,342.5 301.5,344.5 326.5,344.5 351.5,331.0 375.5,306.0 400.5,328.0 425.5,332.5 449.5,329.3 474.5,333.2 499.5,338.5 523.5,328.0 548.5,329.7 573.5,330.3 597.5,344.6 622.5,344.5 647.5,338.3 671.5,345.4 696.5,345.7 721.5,344.5 745.5,345.7 770.5,343.0" stroke="#808040"/>
<circle cx="55.5" cy="221.9" r="2.35" fill="#fff" stroke="#808040"/>
<circle cx="79.5" cy="322.6" r="2.35" fill="#fff" stroke="#808040"/>
<circle cx="104.5" cy="60.6" r="2.35" fill="#fff" stroke="#808040"/>
<circle cx="129.5" cy="331.3" r="2.35" fill="#fff" stroke="#808040"/>
<circle cx="153.5" cy="346.6" r="2.35" fill="#fff" stroke="#808040"/>
<circle cx="178.5" cy="341.0" r="2.35" fill="#fff" stroke="#808040"/>
<circle cx="203.5" cy="345.4" r="2.35" fill="#fff" stroke="#808040"/>
<circle cx="227.5" cy="344.5" r="2.35" fill="#fff" stroke="#808040"/>
<circle cx="252.5" cy="311.7" r="2.35" fill="#fff" stroke="#808040"/>
<circle cx="277.5" cy="342.5" r="2.35" fill="#fff" stroke="#808040"/>
<circle cx="301.5" cy="344.5" r="2.35" fill="#fff" stroke="#808040"/>
<circle cx="326.5" cy="344.5" r="2.35" fill="#fff" stroke="#808040"/>
<circle cx="351.5" cy="331.0" r="2.35" fill="#fff" stroke="#808040"/>
<circle cx="375.5" cy="306.0" r="2.35" fill="#fff" stroke="#808040"/>
<circle cx="400.5" cy="328.0" r="2.35" fill="#fff" stroke="#808040"/>
<circle cx="425.5" cy="332.5" r="2.35" fill="#fff" stroke="#808040"/>
<circle cx="449.5" cy="329.3" r="2.35" fill="#fff" stroke="#808040"/>
<circle cx="474.5" cy="333.2" r="2.35" fill="#fff" stroke="#808040"/>
<circle cx="499.5" cy="338.5" r="2.35" fill="#fff" stroke="#808040"/>
<circle cx="523.5" cy="328.0" r="2.35" fill="#fff" stroke="#808040"/>
<circle cx="548.5" cy="329.7" r="2.35" fill="#fff" stroke="#808040"/>
<circle cx="573.5" cy="330.3" r="2.35" fill="#fff" stroke="#808040"/>
<circle cx="597.5" cy="344.6" r="2.35" fill="#fff" stroke="#808040"/>
<circle cx="622.5" cy="344.5" r="2.35" fill="#fff" stroke="#808040"/>
<circle cx="647.5" cy="338.3" r="2.35" fill="#fff" stroke="#808040"/>
<circle cx="671.5" cy="345.4" r="2.35" fill="#fff" stroke="#808040"/>
<circle cx="696.5" cy="345.7" r="2.35" fill="#fff" stroke="#808040"/>
<circle cx="721.5" cy="344.5" r="2.35" fill="#fff" stroke="#808040"/>
<circle cx="745.5" cy="345.7" r="2.35" fill="#fff" stroke="#808040"/>
<circle cx="770.5" cy="343.0" r="2.35" fill="#fff" stroke="#808040"/>
<polyline points="55.5,232.5 79.5,308.5 104.5,183.8 129.5,249.5 153.5,311.7 178.5,253.3 203.5,312.6 227.5,310.4 252.5,311.7 277.5,307.2 301.5,314.4 326.5,312.5 351.5,313.4 375.5,311.2 400.5,310.4 425.5,311.5 449.5,314.3 474.5,315.2 499.5,314.2 523.5,315.2 548.5,315.3 573.5,313.8 597.5,292.5 622.5,312.4 647.5,311.5 671.5,307.4 696.5,315.5" stroke="#ff0000"/>
<circle cx="55.5" cy="232.5" r="2.35" fill="#ffff00" stroke="#ff0000"/>
<circle cx="79.5" cy="308.5" r="2.35" fill="#ffff00" stroke="#ff0000"/>
<circle cx="104.5" cy="183.8" r="2.35" fill="#ffff00" stroke="#ff0000"/>
<circle cx="129.5" cy="249.5" r="2.35" fill="#ffff00" stroke="#ff0000"/>
<circle cx="153.5" cy="311.7" r="2.35" fill="#ffff00" stroke="#ff0000"/>
<circle cx="178.5" cy="253.3" r="2.35" fill="#ffff00" stroke="#ff0000"/>
<circle cx="203.5" cy="312.6" r="2.35" fill="#ffff00" stroke="#ff0000"/>
<circle cx="227.5" cy="310.4" r="2.35" fill="#ffff00" stroke="#ff0000"/>
<circle cx="252.5" cy="311.7" r="2.35" fill="#ffff00" stroke="#ff0000"/>
<circle cx="277.5" cy="307.2" r="2.35" fill="#ffff00" stroke="#ff0000"/>
<circle cx="301.5" cy="314.4" r="2.35" fill="#ffff00" stroke="#ff0000"/>
<circle cx="326.5" cy="312.5" r="2.35" fill="#ffff00" stroke="#ff0000"/>
<circle cx="351.5" cy="313.4" r="2.35" fill="#ffff00" stroke="#ff0000"/>
<circle cx="375.5" cy="311.2" r="2.35" fill="#ffff00" stroke="#ff0000"/>
<circle cx="400.5" cy="310.4" r="2.35" fill="#ffff00" stroke="#ff0000"/>
<circle cx="425.5" cy="311.5" r="2.35" fill="#ffff00" stroke="#ff0000"/>
<circle cx="449.5" cy="314.3" r="2.35" fill="#ffff00" stroke="#ff0000"/>
<circle cx="474.5" cy="315.2" r="2.35" fill="#ffff00" stroke="#ff0000"/>
<circle cx="499.5" cy="314.2" r="2.35" fill="#ffff00" stroke="#ff0000"/>
<circle cx="523.5" cy="315.2" r="2.35" fill="#ffff00" stroke="#ff0000"/>
<circle cx="548.5" cy="315.3" r="2.35" fill="#ffff00" stroke="#ff0000"/>
<circle cx="573.5" cy="313.8" r="2.35" fill="#ffff00" stroke="#ff0000"/>
<circle cx="597.5" cy="292.5" r="2.35" fill="#ffff00" stroke="#ff0000"/>
<circle cx="622.5" cy="312.4" r="2.35" fill="#ffff00" stroke="#ff0000"/>
<circle cx="647.5" cy="311.5" r="2.35" fill="#ffff00" stroke="#ff0000"/>
<circle cx="671.5" cy="307.4" r="2.35" fill="#ffff00" stroke="#ff0000"/>
<circle cx="696.5" cy="315.5" r="2.35" fill="#ffff00" stroke="#ff0000"/>
</g>
<text x="8" y="21" class="tt">Time</text>
<text x="743" y="370" class="tt">Laps</text>
<text x="3.5" y="60" class="yl">0:32</text>
<text x="3.5" y="83" class="yl">0:31</text>
<text x="3.5" y="106" class="yl">0:30</text>
<text x="3.5" y="129" class="yl">0:29</text>
<text x="3.5" y="152" class="yl">0:28</text>
<text x="3.5" y="175" class="yl">0:27</text>
<text x="3.5" y="198" class="yl">0:26</text>
<text x="3.5" y="221" class="yl">0:25</text>
<text x="3.5" y="244" class="yl">0:24</text>
<text x="3.5" y="267" class="yl">0:23</text>
<text x="3.5" y="290" class="yl">0:22</text>
<text x="3.5" y="313" class="yl">0:21</text>
<text x="3.5" y="336" class="yl">0:20</text>
<text x="3.5" y="359" class="yl">0:19</text>
<text x="55.5" y="392" class="xl" text-anchor="middle">1</text>
<text x="79.5" y="392" class="xl" text-anchor="middle">2</text>
<text x="104.5" y="392" class="xl" text-anchor="middle">3</text>
<text x="129.5" y="392" class="xl" text-anchor="middle">4</text>
<text x="153.5" y="392" class="xl" text-anchor="middle">5</text>
<text x="178.5" y="392" class="xl" text-anchor="middle">6</text>
<text x="203.5" y="392" class="xl" text-anchor="middle">7</text>
<text x="227.5" y="392" class="xl" text-anchor="middle">8</text>
<text x="252.5" y="392" class="xl" text-anchor="middle">9</text>
<text x="274.0" y="392" class="xl">10</text>
<text x="298.0" y="392" class="xl">11</text>
<text x="323.0" y="392" class="xl">12</text>
<text x="348.0" y="392" class="xl">13</text>
<text x="372.0" y="392" class="xl">14</text>
<text x="397.0" y="392" class="xl">15</text>
<text x="422.0" y="392" class="xl">16</text>
<text x="446.0" y="392" class="xl">17</text>
<text x="471.0" y="392" class="xl">18</text>
<text x="496.0" y="392" class="xl">19</text>
<text x="520.0" y="392" class="xl">20</text>
<text x="545.0" y="392" class="xl">21</text>
<text x="570.0" y="392" class="xl">22</text>
<text x="594.0" y="392" class="xl">23</text>
<text x="619.0" y="392" class="xl">24</text>
<text x="644.0" y="392" class="xl">25</text>
<text x="668.0" y="392" class="xl">26</text>
<text x="693.0" y="392" class="xl">27</text>
<text x="718.0" y="392" class="xl">28</text>
<text x="742.0" y="392" class="xl">29</text>
<text x="767.0" y="392" class="xl">30</text>
</svg>
</body></html>
